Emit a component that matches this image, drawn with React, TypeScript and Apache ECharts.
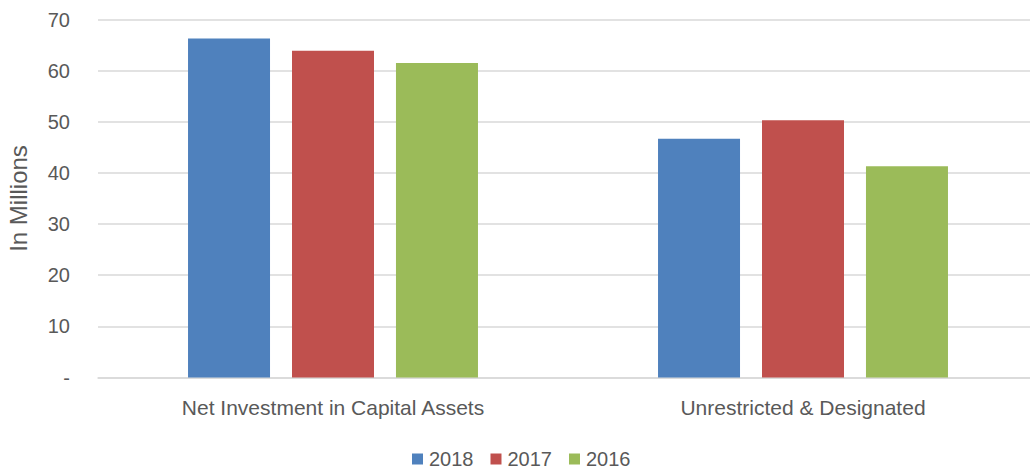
import React, { useEffect, useRef } from "react";
import * as echarts from "echarts";

const categories = ["Net Investment in Capital Assets", "Unrestricted & Designated"];
const seriesNames = ["2018", "2017", "2016"];
const values2018 = [66.3, 46.7];
const values2017 = [63.9, 50.3];
const values2016 = [61.5, 41.3];
const colors = ["#4F81BD", "#C0504D", "#9BBB59"];

export default function App() {
  const ref = useRef<HTMLDivElement>(null);
  useEffect(() => {
    if (!ref.current) return;
    const chart = echarts.init(ref.current, null, { renderer: "svg" });
    const font = "'Liberation Sans', Arial, sans-serif";
    const data = [values2018, values2017, values2016];
    chart.setOption({
      animation: false,
      textStyle: { fontFamily: font },
      grid: {
        left: 98,
        top: 19.5,
        width: 940,
        height: 358,
        containLabel: false,
        outerBoundsMode: "none",
      },
      legend: {
        data: seriesNames,
        top: 449,
        left: 412,
        padding: 0,
        itemWidth: 11,
        itemHeight: 11,
        itemGap: 17,
        icon: "rect",
        textStyle: { fontSize: 20, lineHeight: 20, color: "#595959", fontFamily: font, padding: [0, 0, 0, 1] },
      },
      xAxis: {
        type: "category",
        data: categories,
        axisTick: { show: false },
        axisLine: { lineStyle: { color: "#d9d9d9", width: 1.5 } },
        axisLabel: { fontSize: 21, color: "#595959", margin: 19, fontFamily: font },
      },
      yAxis: {
        type: "value",
        min: 0,
        max: 70,
        interval: 10,
        name: "In Millions",
        nameLocation: "middle",
        nameGap: 68,
        nameTextStyle: { fontSize: 24, color: "#595959", fontFamily: font },
        axisLine: { show: false },
        axisTick: { show: false },
        splitLine: { lineStyle: { color: "#d9d9d9", width: 1.5 } },
        axisLabel: {
          fontSize: 20,
          color: "#595959",
          margin: 28,
          fontFamily: font,
          formatter: (v: number) => (v === 0 ? "-" : String(v)),
        },
      },
      series: seriesNames.map((name, i) => ({
        name,
        type: "bar",
        data: data[i],
        barWidth: 82,
        barGap: "26.8%",
        itemStyle: { color: colors[i] },
      })),
    });
    return () => chart.dispose();
  }, []);
  return (
    <div
      ref={ref}
      style={{ position: "fixed", left: 0, top: 0, width: 1030, height: 470, background: "#fff" }}
    />
  );
}
